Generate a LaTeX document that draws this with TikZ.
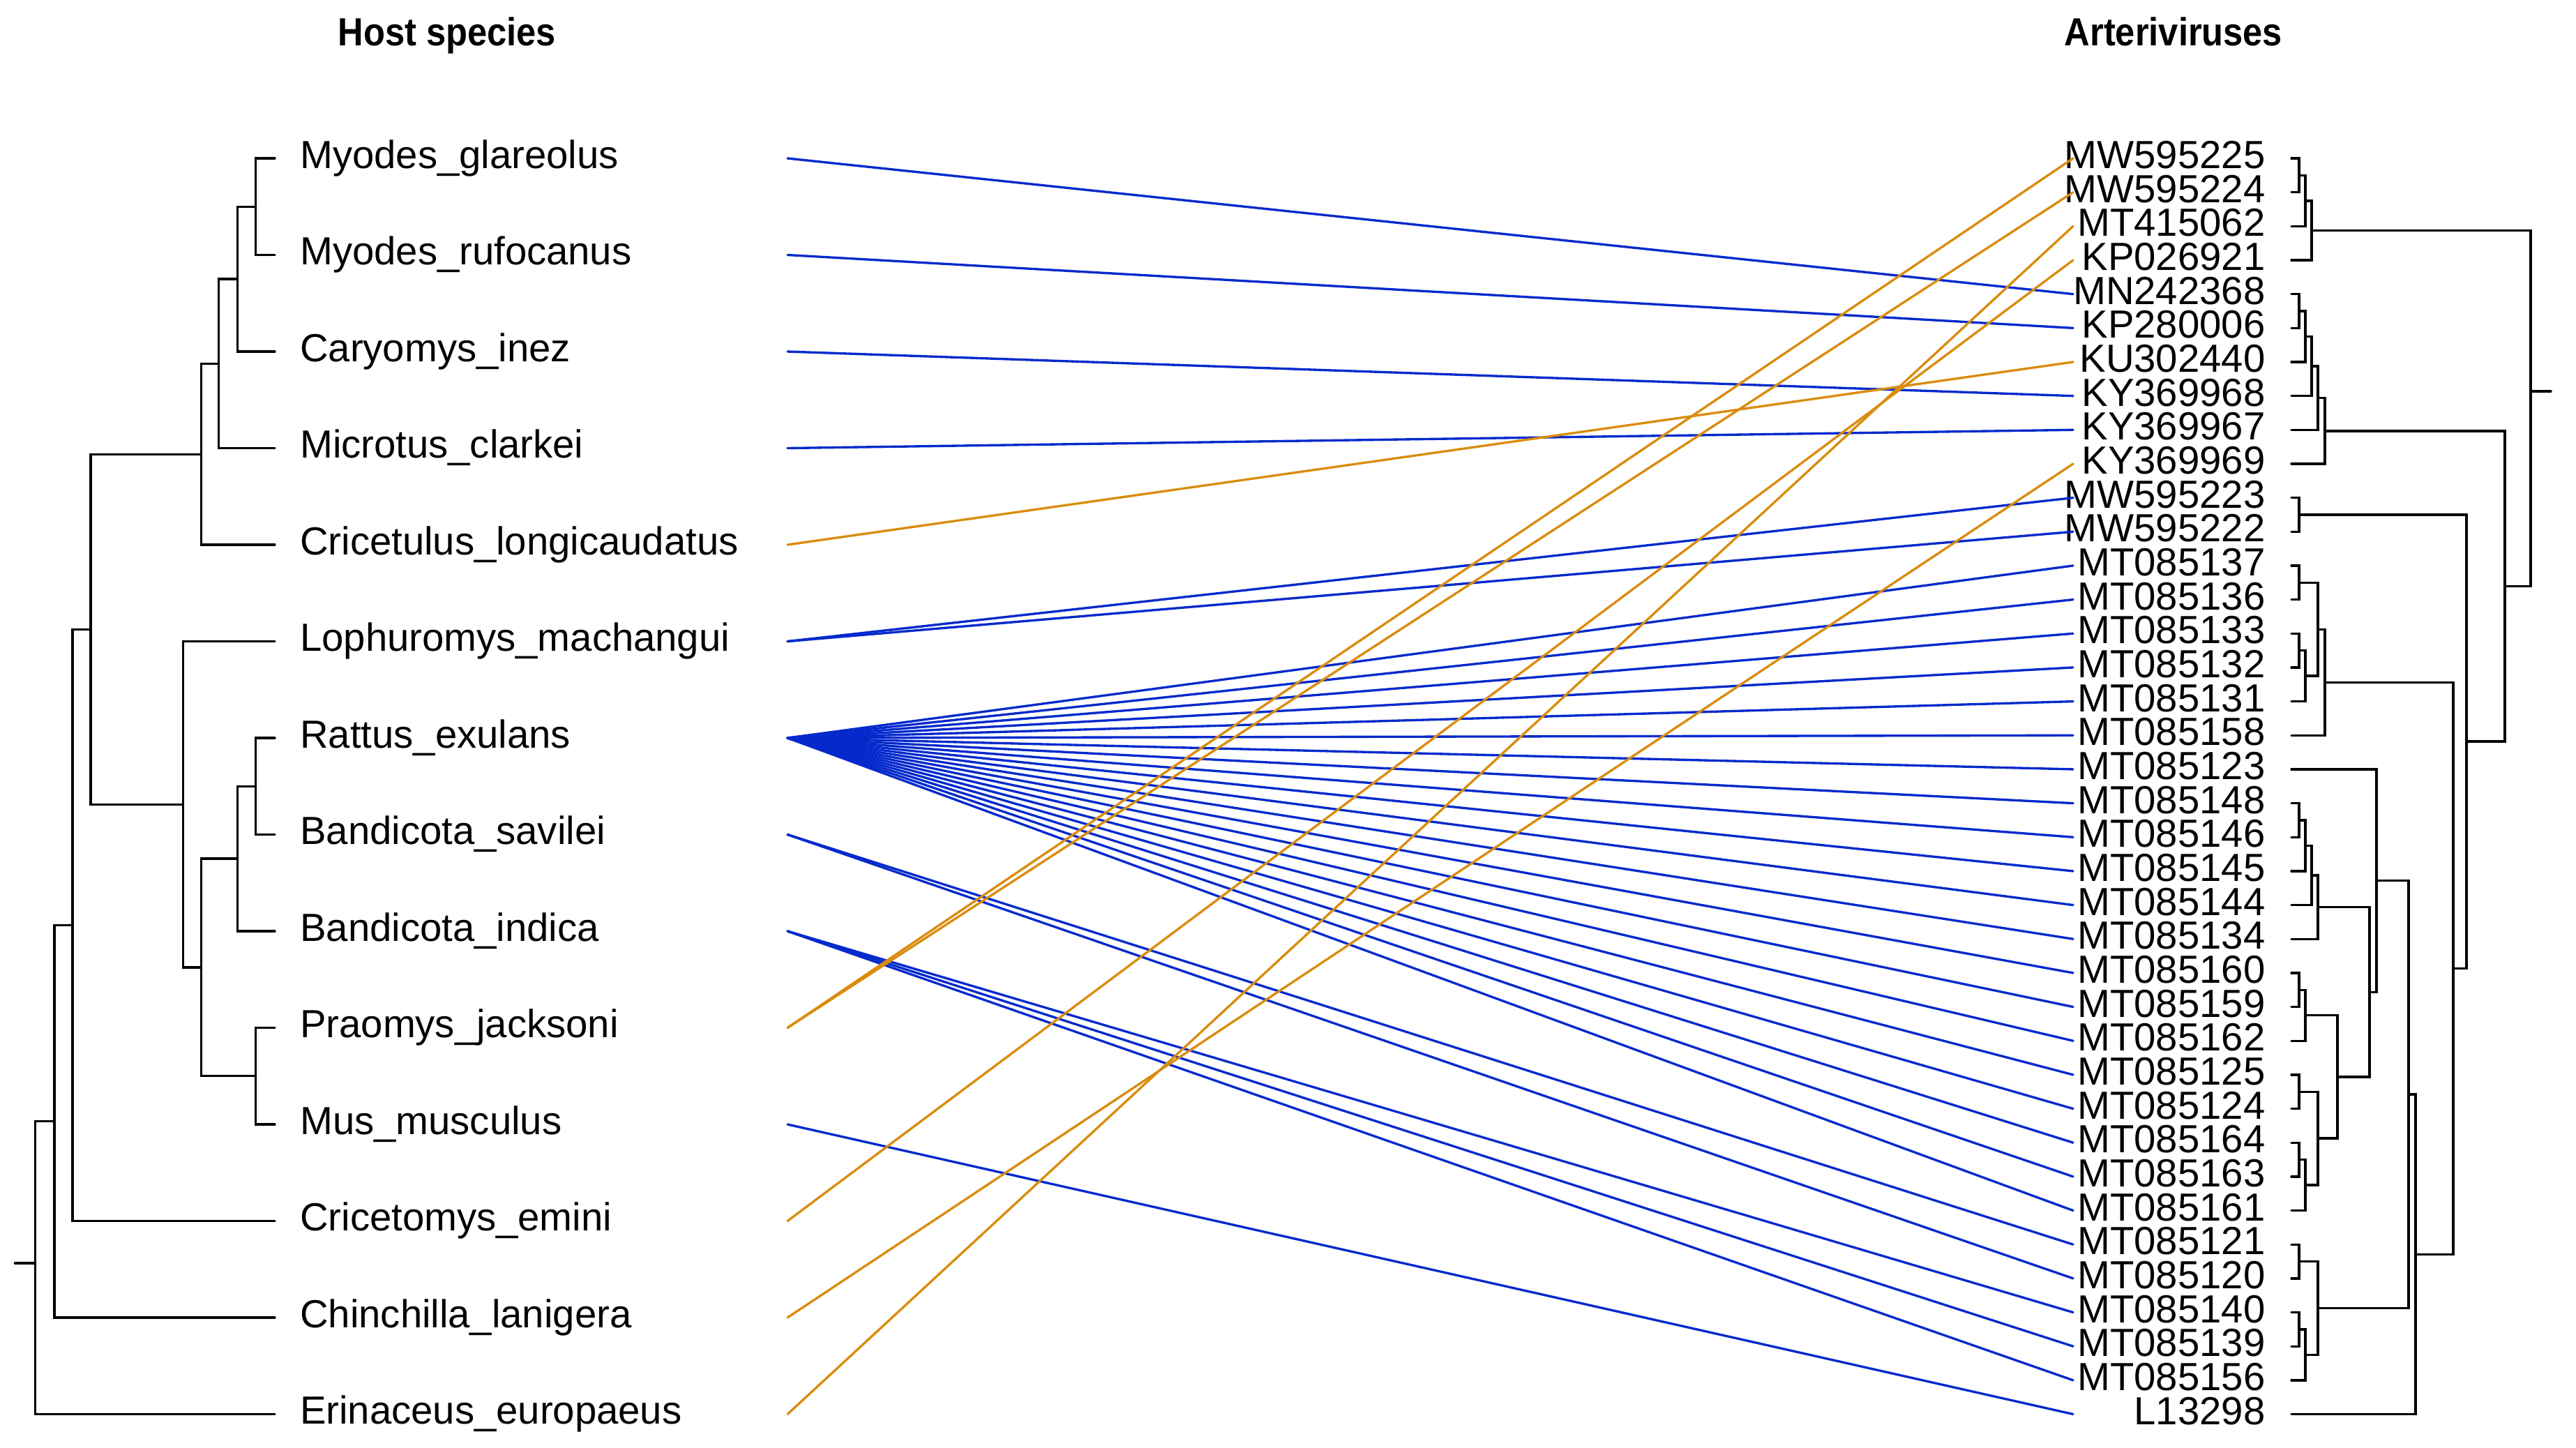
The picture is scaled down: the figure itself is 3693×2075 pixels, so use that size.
\documentclass[tikz,border=0pt]{standalone}
\usepackage{fontspec}
\setmainfont{Liberation Sans}
\newfontfamily\headfont[FakeStretch=0.9]{Liberation Sans}
\usetikzlibrary{positioning,calc}
\definecolor{hostblue}{RGB}{4,42,204}
\definecolor{hostorange}{RGB}{217,140,14}
% one branch of a tree: node #1 joins children #2 and #3
\newcommand\clade[3]{\draw[branch] (#2) -| (#1) |- (#3);}

\begin{document}
\begin{tikzpicture}[x=0.1mm,y=-0.1mm,line width=0.95pt,line cap=round,
  branch/.style={draw=black},
  hlink/.style={draw=hostblue},
  olink/.style={draw=hostorange},
  tiplabel/.style={inner sep=0pt,font=\fontsize{16}{19}\selectfont},
  headlabel/.style={inner sep=0pt,anchor=base,font=\headfont\bfseries\fontsize{16}{19}\selectfont}]

\useasboundingbox (0,0) rectangle (3693,2075);

\node[headlabel] (hosthead) at (641,65) {Host species};
\node[headlabel] (virushead) at (3116,65) {Arteriviruses};

% host tips
\foreach \name [count=\i from 0] in {Myodes\_glareolus,Myodes\_rufocanus,Caryomys\_inez,Microtus\_clarkei,Cricetulus\_longicaudatus,Lophuromys\_machangui,Rattus\_exulans,Bandicota\_savilei,Bandicota\_indica,Praomys\_jacksoni,Mus\_musculus,Cricetomys\_emini,Chinchilla\_lanigera,Erinaceus\_europaeus}{
  \coordinate (h\i) at (394,{227+138.5*\i});
  \coordinate (ha\i) at (1129,{227+138.5*\i});
  \node[tiplabel,anchor=base west] (hl\i) at (428.6,{241+138.5*\i}) {\name};
}

% virus tips
\foreach \name [count=\i from 0] in {MW595225,MW595224,MT415062,KP026921,MN242368,KP280006,KU302440,KY369968,KY369967,KY369969,MW595223,MW595222,MT085137,MT085136,MT085133,MT085132,MT085131,MT085158,MT085123,MT085148,MT085146,MT085145,MT085144,MT085134,MT085160,MT085159,MT085162,MT085125,MT085124,MT085164,MT085163,MT085161,MT085121,MT085120,MT085140,MT085139,MT085156,L13298}{
  \coordinate (v\i) at (3285,{227+48.662*\i});
  \coordinate (va\i) at (2972,{227+48.662*\i});
  \node[tiplabel,anchor=base east] (vl\i) at (3249,{241.5+48.662*\i}) {\name};
}

% host tree
\coordinate (A1) at (366.6,296.25);
\coordinate (A2) at (340.6,400.13);
\coordinate (A3) at (313.8,521.31);
\coordinate (A4) at (288.5,651.16);
\coordinate (B1) at (366.6,1127.25);
\coordinate (B2) at (340.6,1231.13);
\coordinate (B3) at (366.6,1542.75);
\coordinate (B4) at (288.5,1386.94);
\coordinate (B5) at (262.5,1153.22);
\coordinate (C1) at (130.1,902.19);
\coordinate (C2) at (104,1326.34);
\coordinate (C3) at (78,1607.67);
\coordinate (R) at (50.5,1817.59);
\coordinate (Rb) at (50.5,1811);
\coordinate (Rs) at (21.4,1811);
\clade{A1}{h0}{h1}
\clade{A2}{A1}{h2}
\clade{A3}{A2}{h3}
\clade{A4}{A3}{h4}
\clade{B1}{h6}{h7}
\clade{B2}{B1}{h8}
\clade{B3}{h9}{h10}
\clade{B4}{B2}{B3}
\clade{B5}{h5}{B4}
\clade{C1}{A4}{B5}
\clade{C2}{C1}{h11}
\clade{C3}{C2}{h12}
\clade{R}{C3}{h13}
\draw[branch] (Rb) -- (Rs);

% virus tree
\coordinate (g1a) at (3296,251.33);
\coordinate (g1b) at (3305,287.83);
\coordinate (g1c) at (3314,330.41);
\coordinate (g2a) at (3296,445.98);
\coordinate (g2b) at (3305,482.48);
\coordinate (g2c) at (3314,525.05);
\coordinate (g2d) at (3323,570.68);
\coordinate (g2e) at (3333,617.82);
\coordinate (g3) at (3296,737.95);
\coordinate (g4a) at (3296,835.28);
\coordinate (g4b) at (3296,932.60);
\coordinate (g4c) at (3305,969.10);
\coordinate (g4d) at (3323,902.19);
\coordinate (g4e) at (3333,978.22);
\coordinate (g5a) at (3296,1175.91);
\coordinate (g5b) at (3305,1212.41);
\coordinate (g5c) at (3314,1254.99);
\coordinate (g5d) at (3323,1300.61);
\coordinate (g6a) at (3296,1419.22);
\coordinate (g6b) at (3305,1455.72);
\coordinate (g6c) at (3296,1565.21);
\coordinate (g6d) at (3296,1662.53);
\coordinate (g6e) at (3305,1699.03);
\coordinate (g6f) at (3323,1632.12);
\coordinate (g6g) at (3351,1543.92);
\coordinate (g7a) at (3296,1808.52);
\coordinate (g7b) at (3296,1905.85);
\coordinate (g7c) at (3305,1942.34);
\coordinate (g7d) at (3323,1875.43);
\coordinate (n1) at (3397,1422.27);
\coordinate (n2) at (3407,1262.59);
\coordinate (n3) at (3453,1569.01);
\coordinate (n4) at (3463,1798.26);
\coordinate (n5) at (3517,1388.24);
\coordinate (n6) at (3536,1063.10);
\coordinate (n7) at (3591,840.46);
\coordinate (rt) at (3628,585.44);
\coordinate (rtb) at (3628,561);
\coordinate (rts) at (3657,561);
\clade{g1a}{v0}{v1}
\clade{g1b}{g1a}{v2}
\clade{g1c}{g1b}{v3}
\clade{g2a}{v4}{v5}
\clade{g2b}{g2a}{v6}
\clade{g2c}{g2b}{v7}
\clade{g2d}{g2c}{v8}
\clade{g2e}{g2d}{v9}
\clade{g3}{v10}{v11}
\clade{g4a}{v12}{v13}
\clade{g4b}{v14}{v15}
\clade{g4c}{g4b}{v16}
\clade{g4d}{g4a}{g4c}
\clade{g4e}{g4d}{v17}
\clade{g5a}{v19}{v20}
\clade{g5b}{g5a}{v21}
\clade{g5c}{g5b}{v22}
\clade{g5d}{g5c}{v23}
\clade{g6a}{v24}{v25}
\clade{g6b}{g6a}{v26}
\clade{g6c}{v27}{v28}
\clade{g6d}{v29}{v30}
\clade{g6e}{g6d}{v31}
\clade{g6f}{g6c}{g6e}
\clade{g6g}{g6b}{g6f}
\clade{g7a}{v32}{v33}
\clade{g7b}{v34}{v35}
\clade{g7c}{g7b}{v36}
\clade{g7d}{g7a}{g7c}
\clade{n1}{g5d}{g6g}
\clade{n2}{v18}{n1}
\clade{n3}{n2}{g7d}
\clade{n4}{n3}{v37}
\clade{n5}{g4e}{n4}
\clade{n6}{g3}{n5}
\clade{n7}{g2e}{n6}
\clade{rt}{g1c}{n7}
\draw[branch] (rtb) -- (rts);

% associations
\foreach \h/\v in {0/4,1/5,2/7,3/8,5/10,5/11,7/32,7/33,8/34,8/35,8/36,10/37}
  \draw[hlink] (ha\h) -- (va\v);
\foreach \v in {12,...,31}
  \draw[hlink] (ha6) -- (va\v);
\foreach \h/\v in {4/6,9/0,9/1,11/3,12/9,13/2}
  \draw[olink] (ha\h) -- (va\v);

\end{tikzpicture}
\end{document}
